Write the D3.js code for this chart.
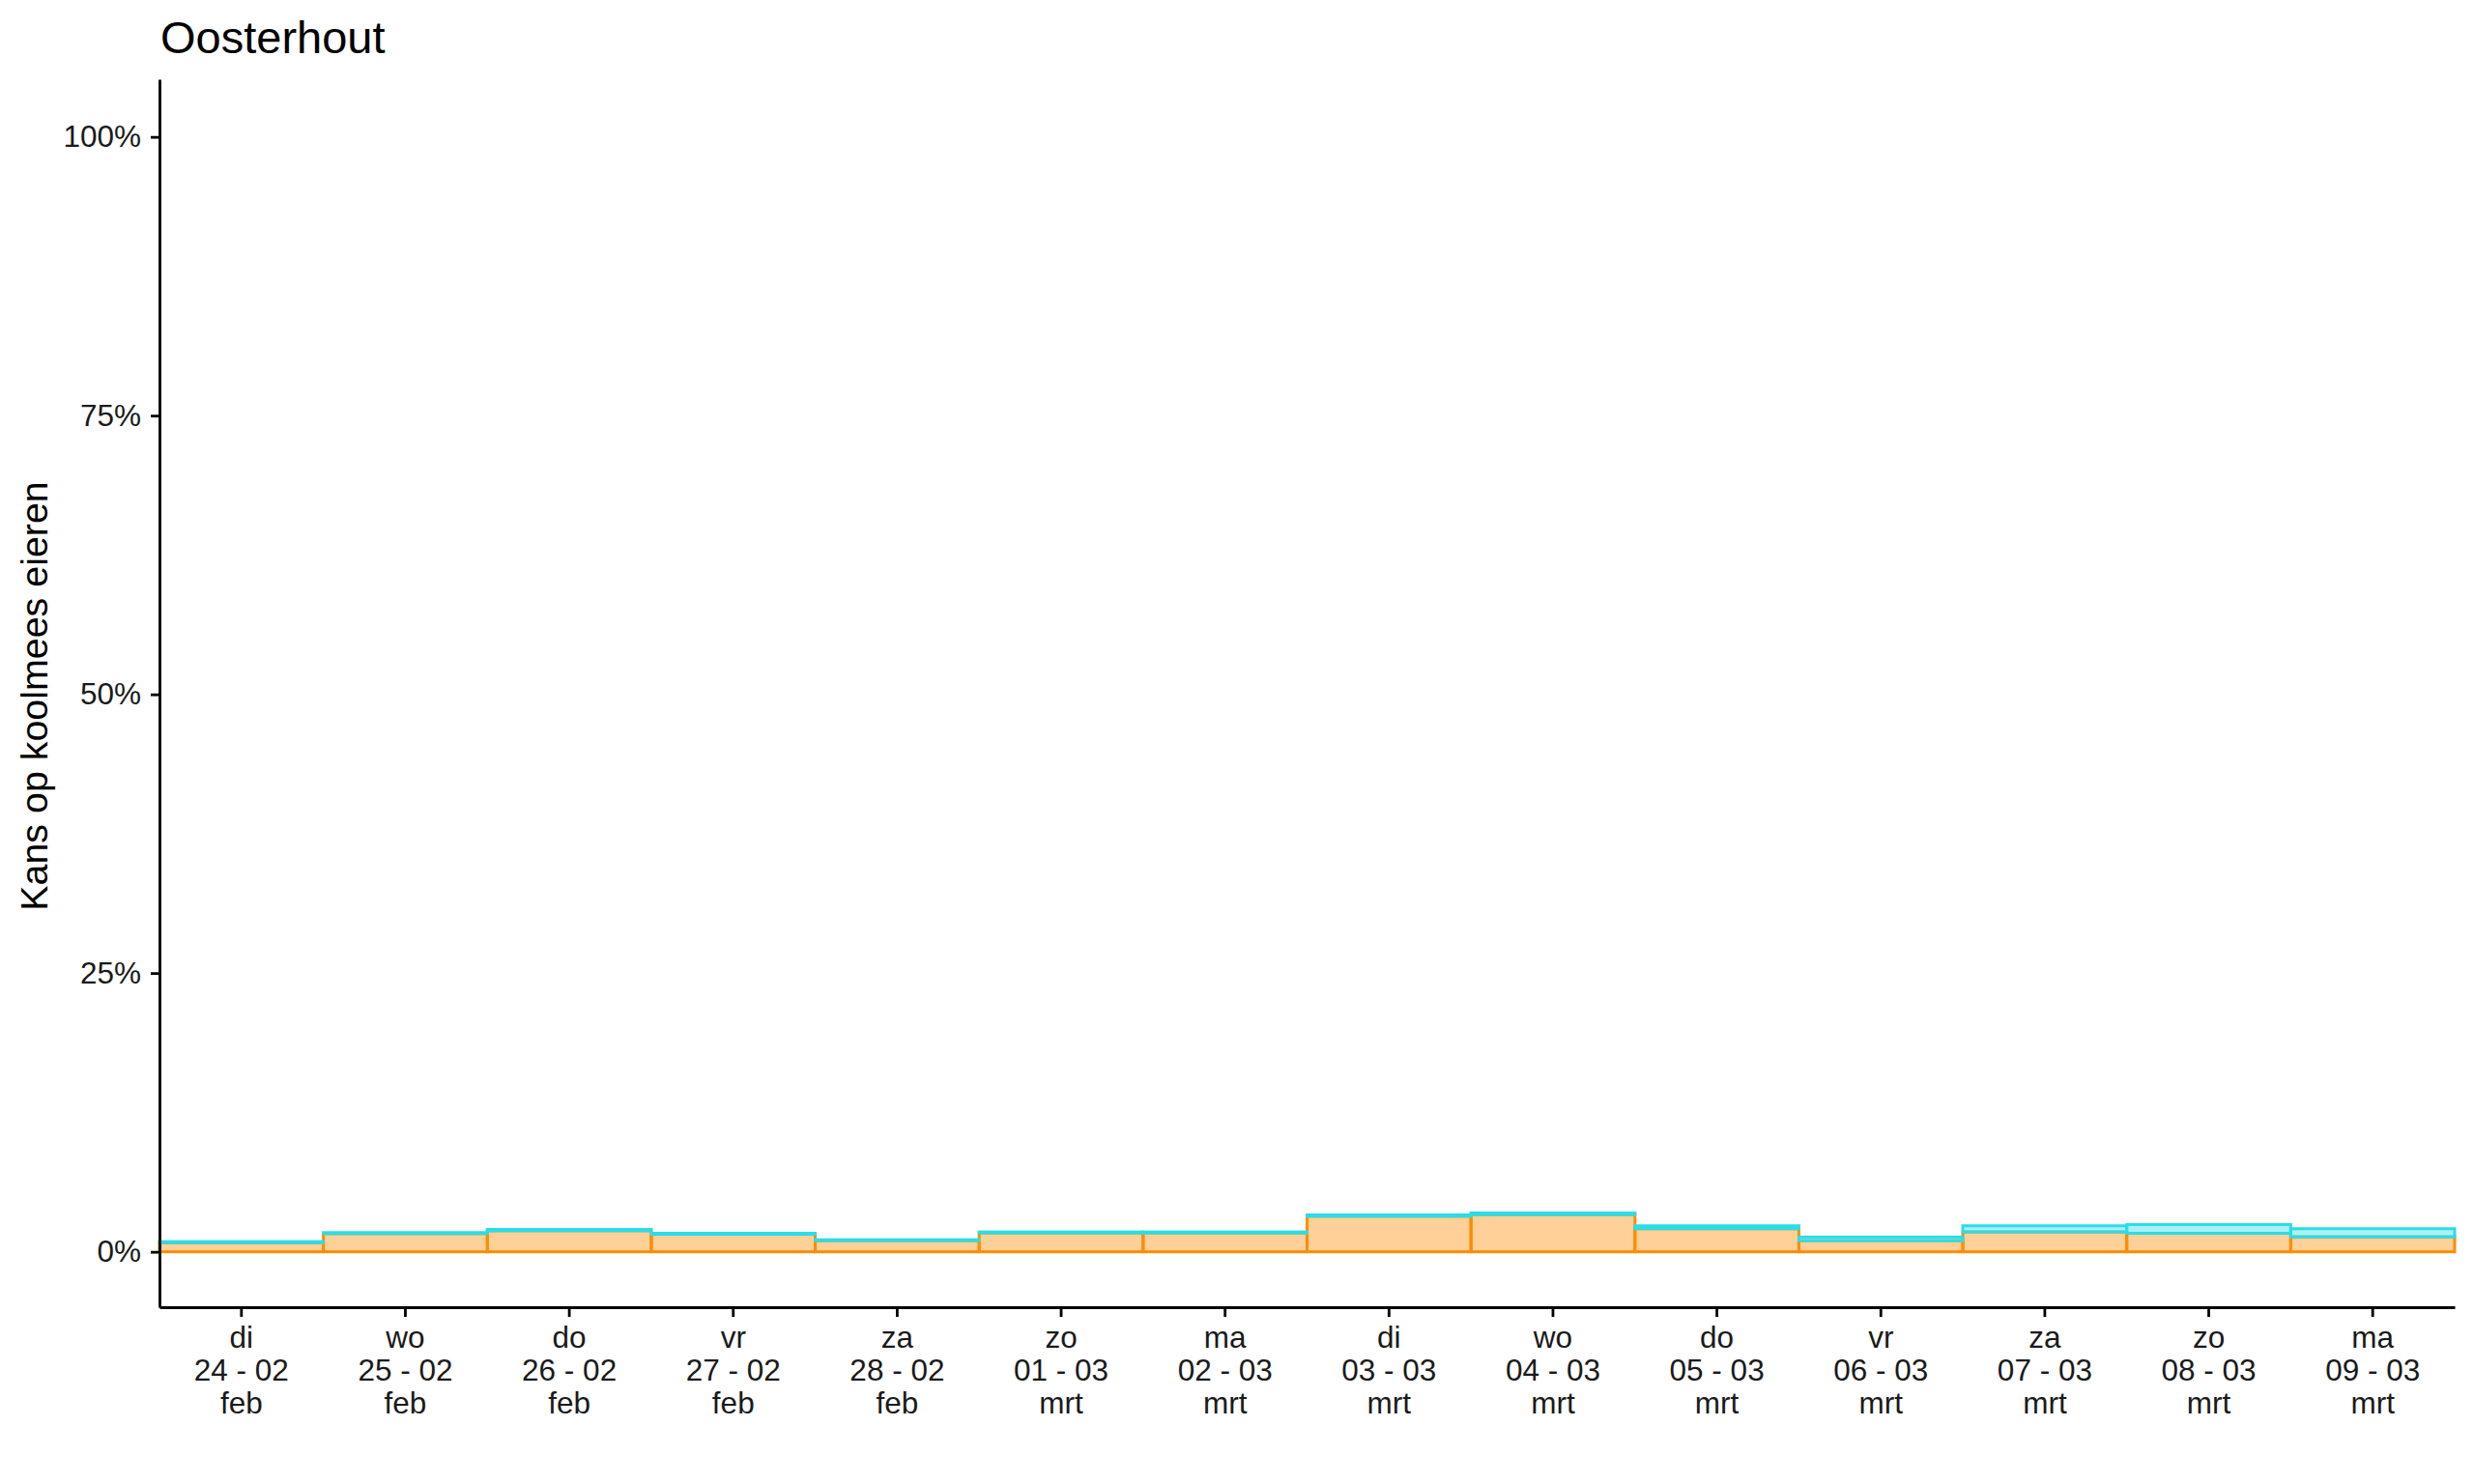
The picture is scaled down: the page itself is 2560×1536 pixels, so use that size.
<!DOCTYPE html>
<html>
<head>
<meta charset="utf-8">
<script src="https://cdn.jsdelivr.net/npm/d3@7"></script>
<style>
  html, body { margin: 0; padding: 0; background: #fff; }
  svg { display: block; font-family: "Liberation Sans", Arial, Helvetica, sans-serif; }
</style>
</head>
<body>
<svg id="chart" width="2560" height="1536"></svg>
<script>
// ---- data ----
const days   = ["di","wo","do","vr","za","zo","ma","di","wo","do","vr","za","zo","ma"];
const dates  = ["24 - 02","25 - 02","26 - 02","27 - 02","28 - 02","01 - 03","02 - 03","03 - 03","04 - 03","05 - 03","06 - 03","07 - 03","08 - 03","09 - 03"];
const months = ["feb","feb","feb","feb","feb","mrt","mrt","mrt","mrt","mrt","mrt","mrt","mrt","mrt"];
// predicted probability (%), orange bars
const kans   = [0.82, 1.63, 1.89, 1.57, 1.00, 1.69, 1.69, 3.19, 3.34, 2.07, 1.00, 1.78, 1.66, 1.34];
// uncertainty band (%), cyan rectangles
const kansLo = [0.82, 1.63, 1.89, 1.57, 1.00, 1.69, 1.69, 3.19, 3.34, 2.07, 1.00, 1.78, 1.66, 1.34];
const kansHi = [0.91, 1.72, 2.01, 1.66, 1.08, 1.78, 1.78, 3.31, 3.48, 2.33, 1.32, 2.33, 2.44, 2.07];
const yTicks = [0, 25, 50, 75, 100];
const title  = "Oosterhout";
const yTitle = "Kans op koolmees eieren";

(function () {
// ---- layout ----
const svg = d3.select("#chart");
const mLeft = 165, mRight = 2540, mTop = 82, mBottom = 1353;
const ids = d3.range(days.length);

const x = d3.scaleBand().domain(ids).range([mLeft, mRight]).paddingInner(0).paddingOuter(0);
const y = d3.scaleLinear().domain([-4.97, 105.17]).range([mBottom, mTop]);

const orange = "#FF8C00";
const cyan = "#2ADDE8";

// orange bars
svg.append("g").selectAll("rect").data(ids).join("rect")
  .attr("x", i => x(i))
  .attr("width", x.bandwidth())
  .attr("y", i => y(kans[i]))
  .attr("height", i => y(0) - y(kans[i]))
  .attr("fill", orange).attr("fill-opacity", 0.4)
  .attr("stroke", orange).attr("stroke-width", 3);

// cyan band
svg.append("g").selectAll("rect").data(ids).join("rect")
  .attr("x", i => x(i))
  .attr("width", x.bandwidth())
  .attr("y", i => y(kansHi[i]))
  .attr("height", i => y(kansLo[i]) - y(kansHi[i]))
  .attr("fill", cyan).attr("fill-opacity", 0.4)
  .attr("stroke", cyan).attr("stroke-width", 3);

// y axis
const yAxis = svg.append("g").attr("transform", `translate(${mLeft},0)`)
  .call(d3.axisLeft(y).tickValues(yTicks).tickFormat(d => d + "%").tickSize(9).tickPadding(10).tickSizeOuter(0));
yAxis.select(".domain").attr("stroke", "#000").attr("stroke-width", 2.8);
yAxis.selectAll(".tick line").attr("stroke", "#000").attr("stroke-width", 2.8);
yAxis.selectAll(".tick text").attr("fill", "#1a1a1a").attr("font-size", 31.5)
  .attr("font-family", "'Liberation Sans', Arial, sans-serif");

// x axis
const xAxis = svg.append("g").attr("transform", `translate(0,${mBottom})`)
  .call(d3.axisBottom(x).tickSize(10).tickSizeOuter(0).tickFormat(""));
xAxis.select(".domain").attr("stroke", "#000").attr("stroke-width", 2.8);
xAxis.selectAll(".tick line").attr("stroke", "#000").attr("stroke-width", 2.8);
xAxis.selectAll(".tick text").each(function(i) {
  const t = d3.select(this).attr("y", null).attr("dy", null)
    .attr("fill", "#1a1a1a").attr("font-size", 31.5)
    .attr("font-family", "'Liberation Sans', Arial, sans-serif")
    .attr("text-anchor", "middle");
  t.text(null);
  [days[i], dates[i], months[i]].forEach((s, k) => {
    t.append("tspan").attr("x", 0).attr("y", 42 + k * 34).text(s);
  });
});

// title
svg.append("text").attr("x", 166).attr("y", 55)
  .attr("font-size", 47).attr("fill", "#000").text(title);

// y axis title
svg.append("text")
  .attr("transform", `translate(49,${(mTop + mBottom) / 2 + 3}) rotate(-90)`)
  .attr("text-anchor", "middle").attr("font-size", 39.4).attr("fill", "#000")
  .text(yTitle);
})();
</script>
</body>
</html>
